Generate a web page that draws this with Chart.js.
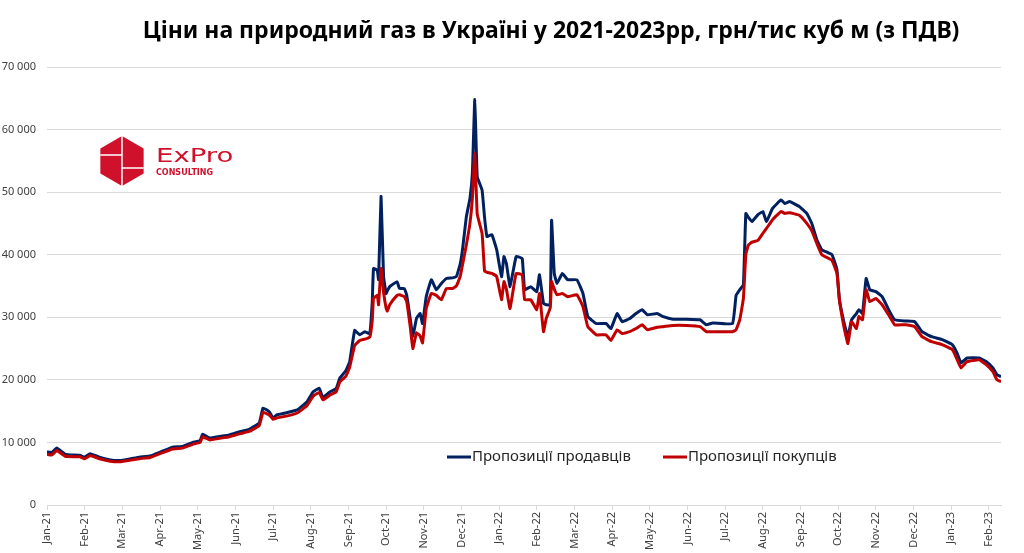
<!DOCTYPE html>
<html>
<head>
<meta charset="utf-8">
<script src="https://cdn.jsdelivr.net/npm/chart.js@4"></script>
<style>
  html, body { margin:0; padding:0; background:#fff; }
  #wrap { width:1024px; height:553px; position:relative; }
</style>
</head>
<body>
<div id="wrap"><canvas id="gas-chart"></canvas></div>
<script>
const TITLE = 'Ціни на природний газ в Україні у 2021-2023рр, грн/тис куб м (з ПДВ)';
const monthLabels = ['Jan-21','Feb-21','Mar-21','Apr-21','May-21','Jun-21','Jul-21','Aug-21','Sep-21','Oct-21','Nov-21','Dec-21',
  'Jan-22','Feb-22','Mar-22','Apr-22','May-22','Jun-22','Jul-22','Aug-22','Sep-22','Oct-22','Nov-22','Dec-22','Jan-23','Feb-23'];

const dates = [
  '2021-01-01','2021-01-05','2021-01-09','2021-01-16','2021-01-28','2021-02-01','2021-02-05','2021-02-12','2021-02-20','2021-02-27',
  '2021-03-07','2021-03-15','2021-03-24','2021-04-01','2021-04-11','2021-04-19','2021-04-27','2021-05-03','2021-05-05','2021-05-11',
  '2021-05-19','2021-05-27','2021-06-05','2021-06-12','2021-06-20','2021-06-23','2021-06-28','2021-07-01','2021-07-04','2021-07-12',
  '2021-07-21','2021-07-29','2021-08-03','2021-08-08','2021-08-11','2021-08-17','2021-08-22','2021-08-25','2021-08-30','2021-09-02',
  '2021-09-06','2021-09-10','2021-09-14','2021-09-18','2021-09-20','2021-09-21','2021-09-24','2021-09-25','2021-09-27','2021-09-29',
  '2021-10-01','2021-10-02','2021-10-04','2021-10-10','2021-10-12','2021-10-16','2021-10-18','2021-10-21','2021-10-23','2021-10-26',
  '2021-10-29','2021-10-31','2021-11-03','2021-11-07','2021-11-11','2021-11-15','2021-11-19','2021-11-24','2021-11-27','2021-11-30',
  '2021-12-02','2021-12-05','2021-12-08','2021-12-10','2021-12-12','2021-12-14','2021-12-18','2021-12-20','2021-12-22','2021-12-26',
  '2021-12-30','2022-01-03','2022-01-05','2022-01-07','2022-01-10','2022-01-15','2022-01-20','2022-01-22','2022-01-27','2022-02-01',
  '2022-02-03','2022-02-06','2022-02-08','2022-02-11','2022-02-12','2022-02-14','2022-02-16','2022-02-20','2022-02-24','2022-03-03',
  '2022-03-08','2022-03-12','2022-03-19','2022-03-27','2022-03-31','2022-04-05','2022-04-09','2022-04-15','2022-04-20','2022-04-25',
  '2022-04-29','2022-05-07','2022-05-12','2022-05-20','2022-05-31','2022-06-11','2022-06-16','2022-06-21','2022-07-07','2022-07-10',
  '2022-07-13','2022-07-16','2022-07-18','2022-07-20','2022-07-23','2022-07-28','2022-08-01','2022-08-04','2022-08-09','2022-08-16',
  '2022-08-19','2022-08-23','2022-08-31','2022-09-06','2022-09-10','2022-09-14','2022-09-18','2022-09-26','2022-09-30','2022-10-02',
  '2022-10-06','2022-10-09','2022-10-12','2022-10-16','2022-10-18','2022-10-21','2022-10-24','2022-10-27','2022-11-01','2022-11-06',
  '2022-11-12','2022-11-16','2022-11-25','2022-12-02','2022-12-08','2022-12-16','2022-12-25','2023-01-02','2023-01-06','2023-01-09',
  '2023-01-14','2023-01-24','2023-01-30','2023-02-04','2023-02-07','2023-02-10'
];

// Пропозиції продавців
const sellers = [
  8500,8400,9100,8100,7950,7650,8200,7650,7200,7100,
  7350,7650,7850,8450,9250,9350,10000,10300,11300,10700,
  10950,11200,11750,12100,13100,15500,14900,13900,14400,14750,
  15200,16500,18100,18650,17200,18100,18650,20300,21500,22900,
  27900,27200,27700,27400,32500,37800,37500,36000,49300,36500,
  33800,34200,34900,35700,34600,34600,33500,29600,26900,29800,
  30600,29000,33300,36000,34400,35400,36200,36300,36500,38500,
  41000,46000,49000,53000,64800,52500,50300,46000,42900,43200,
  40800,36500,39700,38600,34900,39700,39400,34400,34900,34100,
  36800,32200,32000,32000,45500,37000,35400,37000,36000,36000,
  33800,30100,29000,29000,28200,30600,29300,29800,30600,31200,
  30400,30600,30100,29700,29700,29600,28800,29100,29000,33500,
  34400,35200,46600,46000,45300,46400,46900,45300,47400,48750,
  48200,48500,47700,46600,45000,42400,40800,40000,37600,32800,
  29000,26900,29600,30600,31200,30600,36200,34400,34100,33300,
  30900,29600,29400,29300,27700,26900,26400,25600,24200,22700,
  23500,23500,22900,21900,20800,20500
];

// Пропозиції покупців
const buyers = [
  8100,8000,8700,7800,7700,7400,7900,7400,7000,6900,
  7150,7400,7600,8200,8950,9100,9700,10000,10900,10400,
  10650,10900,11400,11750,12700,14800,14400,13700,13900,14200,
  14700,15900,17400,18000,16800,17600,18100,19700,20600,22000,
  25500,26300,26500,26800,29500,33000,33500,32000,37800,34000,
  31500,31000,32000,33500,33600,33300,32500,28300,25000,27500,
  27000,25900,31400,33800,33500,32800,34600,34600,35000,36500,
  38500,41500,45000,49000,56200,46500,43400,37400,37200,37000,
  36500,32800,35700,34500,31400,37000,36800,32800,32800,31200,
  33800,27700,29800,31500,35700,34500,33600,33800,33300,33600,
  31700,28500,27200,27200,26300,28000,27400,27700,28200,28800,
  28000,28400,28500,28700,28700,28500,27700,27700,27700,28000,
  29600,33000,40000,41500,42000,42300,43400,44200,45600,46900,
  46600,46700,46300,45000,43800,41800,40000,39100,37000,32800,
  28200,25800,29300,28200,30100,29600,34400,32500,33000,32000,
  30100,28800,28800,28500,26900,26100,25600,24800,23200,21900,
  22900,23200,22400,21300,20000,19700
];

// month index (Jan-21 = 0) plus fraction of the month
function monthPos(d) {
  const [y, m, dd] = d.split('-').map(Number);
  const dim = new Date(y, m, 0).getDate();
  return (y - 2021) * 12 + (m - 1) + (dd - 1) / dim;
}
const toPoints = vals => vals.map((v, i) => ({ x: monthPos(dates[i]), y: v }));
const fmt = v => String(v).replace(/\B(?=(\d{3})+(?!\d))/g, ' ');

const decor = {
  id: 'decor',
  afterDraw(chart) {
    const ctx = chart.ctx;
    ctx.save();
    // title
    ctx.fillStyle = '#000';
    ctx.font = 'bold 23px "Noto Sans", sans-serif';
    ctx.textAlign = 'center';
    ctx.textBaseline = 'middle';
    ctx.fillText(TITLE, 551, 31);

    // logo
    const cx = 122, cy = 161, r = 25;
    ctx.fillStyle = '#d0112b';
    ctx.beginPath();
    for (let i = 0; i < 6; i++) {
      const a = -Math.PI / 2 + i * Math.PI / 3;
      const px = cx + r * Math.cos(a), py = cy + r * Math.sin(a);
      i ? ctx.lineTo(px, py) : ctx.moveTo(px, py);
    }
    ctx.closePath(); ctx.fill();
    ctx.strokeStyle = '#fff'; ctx.lineWidth = 1.5;
    ctx.beginPath();
    ctx.moveTo(cx, cy - r); ctx.lineTo(cx, cy + r);
    ctx.moveTo(cx - r * 0.87, cy - 6); ctx.lineTo(cx, cy - 6);
    ctx.moveTo(cx, cy + 7); ctx.lineTo(cx + r * 0.87, cy + 7);
    ctx.stroke();
    ctx.fillStyle = '#d0112b';
    ctx.textAlign = 'left';
    ctx.save();
    ctx.translate(156, 157);
    ctx.scale(1.45, 1);
    ctx.font = '19px "DejaVu Sans", sans-serif';
    ctx.fillText('ExPro', 0, 0);
    ctx.restore();
    ctx.font = 'bold 8px "DejaVu Sans", sans-serif';
    ctx.fillText('CONSULTING', 156, 173);

    // legend inside the plot
    const ly = 457;
    const items = [
      { ds: chart.data.datasets[0], x: 447 },
      { ds: chart.data.datasets[1], x: 663 }
    ];
    ctx.font = '15px "Noto Sans", sans-serif';
    items.forEach(it => {
      ctx.strokeStyle = it.ds.borderColor; ctx.lineWidth = 3;
      ctx.beginPath(); ctx.moveTo(it.x, ly); ctx.lineTo(it.x + 24, ly); ctx.stroke();
      ctx.fillStyle = '#262626';
      ctx.fillText(it.ds.label, it.x + 25, ly);
    });
    ctx.restore();
  }
};

const canvas = document.getElementById('gas-chart');
new Chart(canvas, {
  type: 'line',
  data: {
    datasets: [
      { label: 'Пропозиції продавців', data: toPoints(sellers), borderColor: '#002060',
        borderWidth: 3, pointRadius: 0, tension: 0.1, order: 1 },
      { label: 'Пропозиції покупців', data: toPoints(buyers), borderColor: '#c00000',
        borderWidth: 3, pointRadius: 0, tension: 0.1, order: 0 }
    ]
  },
  options: {
    responsive: true, maintainAspectRatio: false, animation: false,
    layout: { padding: { top: 67, right: 23, left: 0, bottom: 0 } },
    plugins: { legend: { display: false }, tooltip: { enabled: false } },
    scales: {
      x: {
        type: 'linear', min: 0, max: monthPos(dates[dates.length - 1]),
        afterBuildTicks: s => { s.ticks = monthLabels.map((_, i) => ({ value: i })); },
        afterFit: s => { s.height = 48; },
        grid: { drawOnChartArea: false, drawTicks: true, tickLength: 5, color: '#d9d9d9' },
        border: { color: '#d9d9d9' },
        ticks: { autoSkip: false, minRotation: 90, maxRotation: 90, padding: 2,
          font: { size: 11, family: '"Noto Sans", sans-serif' }, color: '#404040',
          callback: v => monthLabels[v] }
      },
      y: {
        min: 0, max: 70000,
        afterFit: s => { s.width = 47; },
        border: { display: false },
        grid: { color: '#d9d9d9', drawTicks: false },
        ticks: { stepSize: 10000, padding: 11, color: '#404040',
          font: { size: 11, family: '"Noto Sans", sans-serif' }, callback: v => fmt(v) }
      }
    }
  },
  plugins: [decor]
});
</script>
</body>
</html>
